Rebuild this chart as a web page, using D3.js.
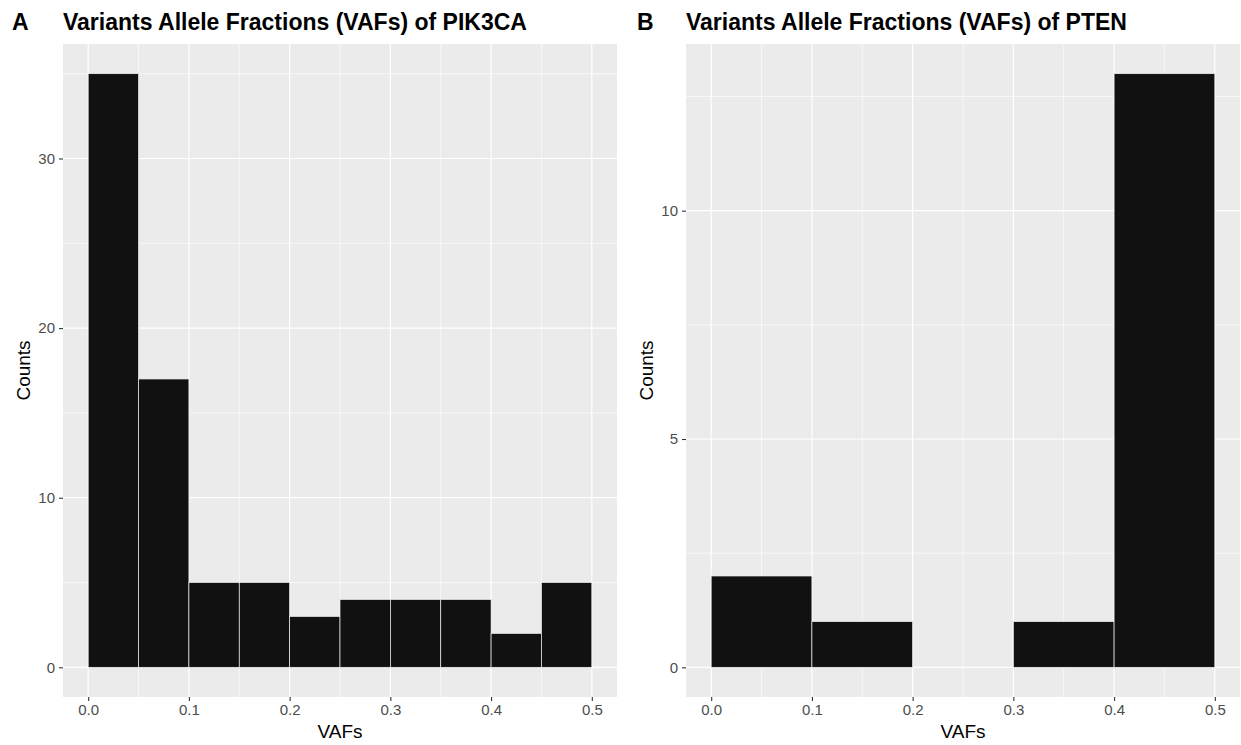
<!DOCTYPE html>
<html>
<head>
<meta charset="utf-8">
<script src="https://cdn.jsdelivr.net/npm/d3@7"></script>
<style>
  body { margin: 0; background: #fff; }
  svg { font-family: "Liberation Sans", Arial, sans-serif; }
</style>
</head>
<body>
<svg id="chart" width="1241" height="745"></svg>
<script>
// bin edges and counts
const pik3caBins = [0, 0.05, 0.1, 0.15, 0.2, 0.25, 0.3, 0.35, 0.4, 0.45, 0.5];
const pik3caCounts = [35, 17, 5, 5, 3, 4, 4, 4, 2, 5];
const ptenBins = [0, 0.1, 0.2, 0.3, 0.4, 0.5];
const ptenCounts = [2, 1, 0, 1, 13];
const xTicks = [0, 0.1, 0.2, 0.3, 0.4, 0.5];
const xMinor = [0.05, 0.15, 0.25, 0.35, 0.45];

const svg = d3.select("#chart");

function drawPanel(opts) {
    const { left, right, top, bottom, bins, counts, yTicks, yMinor, letter, title, letterX } = opts;
    const ymax = d3.max(counts);
    const x = d3.scaleLinear().domain([-0.025, 0.525]).range([left, right]);
    const y = d3.scaleLinear().domain([-ymax * 0.05, ymax * 1.05]).range([bottom, top]);
    const g = svg.append("g");

    g.append("rect")
        .attr("x", left).attr("y", top)
        .attr("width", right - left).attr("height", bottom - top)
        .attr("fill", "#EBEBEB");

    // grid lines: minor first, then major
    const grid = g.append("g").attr("stroke", "#fff");
    grid.selectAll(null).data(xMinor).enter().append("line")
        .attr("x1", d => x(d)).attr("x2", d => x(d))
        .attr("y1", top).attr("y2", bottom)
        .attr("stroke-width", 0.6);
    grid.selectAll(null).data(yMinor).enter().append("line")
        .attr("y1", d => y(d)).attr("y2", d => y(d))
        .attr("x1", left).attr("x2", right)
        .attr("stroke-width", 0.6);
    grid.selectAll(null).data(xTicks).enter().append("line")
        .attr("x1", d => x(d)).attr("x2", d => x(d))
        .attr("y1", top).attr("y2", bottom)
        .attr("stroke-width", 1.2);
    grid.selectAll(null).data(yTicks).enter().append("line")
        .attr("y1", d => y(d)).attr("y2", d => y(d))
        .attr("x1", left).attr("x2", right)
        .attr("stroke-width", 1.2);

    // histogram bars
    const bars = counts.map((c, i) => ({ x0: bins[i], x1: bins[i + 1], c })).filter(d => d.c > 0);
    g.append("g").selectAll("rect").data(bars).enter().append("rect")
        .attr("x", d => x(d.x0))
        .attr("width", d => x(d.x1) - x(d.x0))
        .attr("y", d => y(d.c))
        .attr("height", d => y(0) - y(d.c))
        .attr("fill", "#111111")
        .attr("stroke", "#eeeeee")
        .attr("stroke-width", 0.7);

    // axes
    const xAxis = d3.axisBottom(x).tickValues(xTicks).tickFormat(d3.format(".1f")).tickSize(4).tickPadding(3);
    const yAxis = d3.axisLeft(y).tickValues(yTicks).tickFormat(d3.format("d")).tickSize(4).tickPadding(4);
    const gx = g.append("g").attr("transform", `translate(0,${bottom})`).call(xAxis);
    const gy = g.append("g").attr("transform", `translate(${left},0)`).call(yAxis);
    [gx, gy].forEach(a => {
        a.select(".domain").remove();
        a.selectAll(".tick line").attr("stroke", "#333").attr("stroke-width", 1.1);
        a.selectAll(".tick text").attr("fill", "#4D4D4D").attr("font-size", 15).attr("font-family", null);
    });

    g.append("text")
        .attr("x", (left + right) / 2).attr("y", bottom + 41)
        .attr("text-anchor", "middle").attr("font-size", 19)
        .text("VAFs");
    g.append("text")
        .attr("transform", `translate(${left - 33},${(top + bottom) / 2}) rotate(-90)`)
        .attr("text-anchor", "middle").attr("font-size", 19)
        .text("Counts");

    g.append("text")
        .attr("x", letterX).attr("y", 30)
        .attr("font-size", 23).attr("font-weight", "bold")
        .text(letter);
    g.append("text")
        .attr("x", left).attr("y", 30)
        .attr("font-size", 23).attr("font-weight", "bold")
        .text(title);
}

drawPanel({
    left: 63, right: 617, top: 44, bottom: 697,
    bins: pik3caBins, counts: pik3caCounts,
    yTicks: [0, 10, 20, 30], yMinor: [5, 15, 25, 35],
    letter: "A", letterX: 12,
    title: "Variants Allele Fractions (VAFs) of PIK3CA"
});

drawPanel({
    left: 686, right: 1240, top: 44, bottom: 697,
    bins: ptenBins, counts: ptenCounts,
    yTicks: [0, 5, 10], yMinor: [2.5, 7.5, 12.5],
    letter: "B", letterX: 637,
    title: "Variants Allele Fractions (VAFs) of PTEN"
});
</script>
</body>
</html>
